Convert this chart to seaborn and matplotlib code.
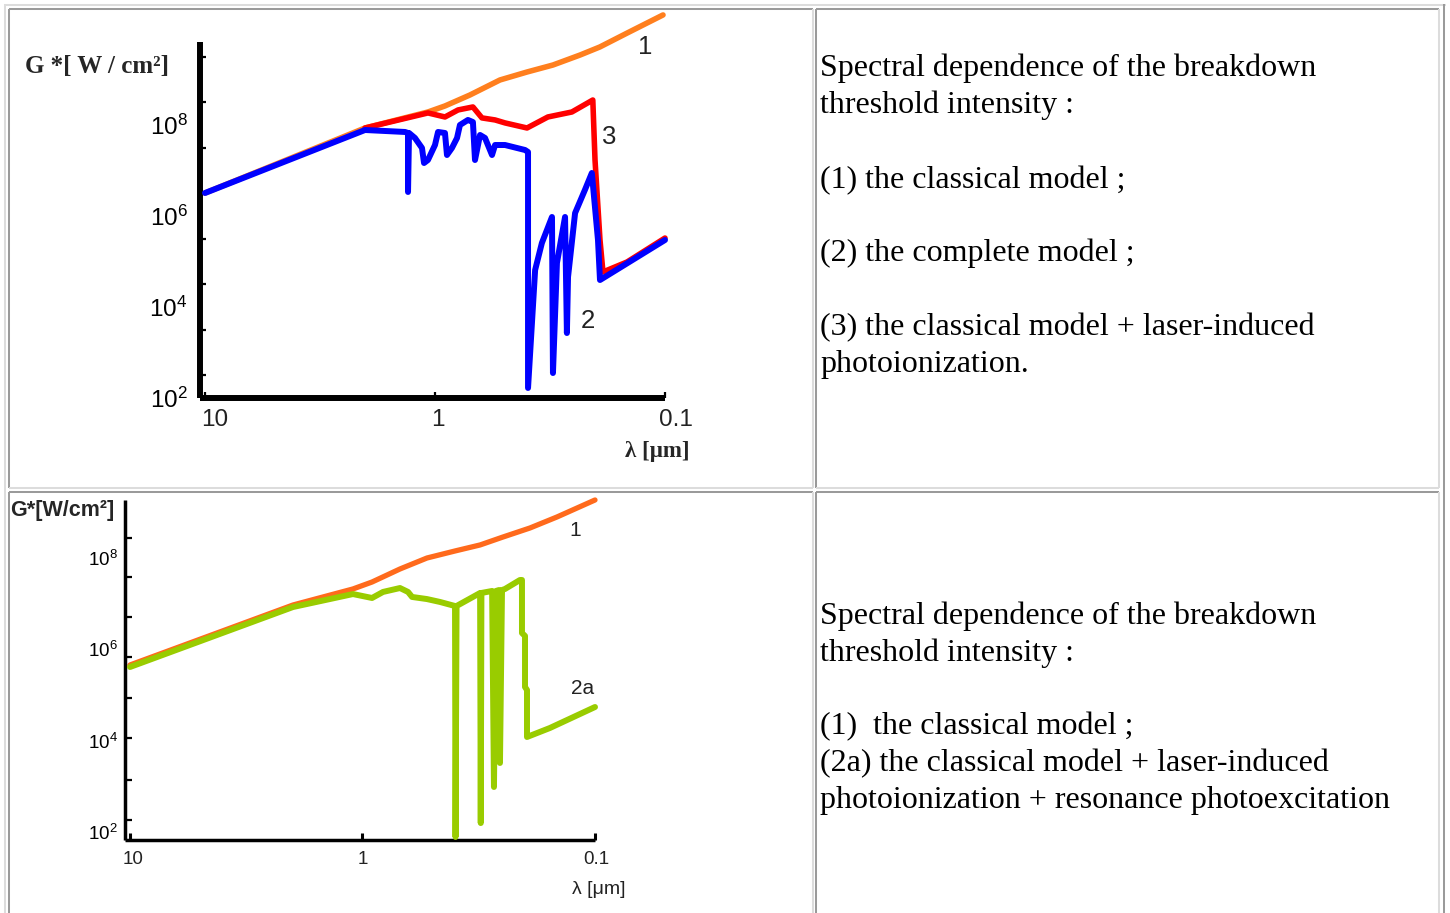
import matplotlib
matplotlib.use("Agg")
import matplotlib.pyplot as plt
import matplotlib.transforms as mtransforms
from matplotlib.lines import Line2D
from matplotlib.ticker import FixedLocator, NullFormatter
import seaborn as sns
import numpy as np
import pandas as pd

# ---------------- data ----------------
# Top chart: wavelength lambda [um] and breakdown threshold G* [W/cm^2]
top_classical_lam = [10.0, 2.015, 1.073, 0.905, 0.705, 0.522, 0.398, 0.307, 0.234, 0.192, 0.146, 0.102]
top_classical_G = [3.20e6, 8.59e7, 1.93e8, 2.62e8, 4.56e8, 9.75e8, 1.46e9, 2.08e9, 3.45e9, 5.18e9, 1.05e10, 2.62e10]

top_photo_lam = [2.015, 1.073, 0.905, 0.794, 0.684, 0.625, 0.548, 0.496, 0.398, 0.323, 0.254, 0.206,
                 0.2015, 0.1917, 0.1861, 0.1463, 0.100]
top_photo_G = [8.59e7, 1.84e8, 1.50e8, 2.14e8, 2.49e8, 1.43e8, 1.29e8, 1.11e8, 8.59e7, 1.50e8, 1.93e8, 3.54e8,
               1.70e7, 2.97e5, 5.88e4, 9.75e4, 3.28e5]

top_complete_lam = [10.0, 2.015, 1.350, 1.310, 1.310, 1.297, 1.222, 1.139, 1.116, 1.073, 1.000, 0.970,
                    0.905, 0.887, 0.844, 0.802, 0.779, 0.719, 0.684, 0.670, 0.637, 0.606, 0.565, 0.548,
                    0.496, 0.406, 0.394, 0.394, 0.367, 0.343, 0.310, 0.307, 0.295, 0.272, 0.267, 0.264,
                    0.246, 0.223, 0.208, 0.1956, 0.1917, 0.100]
top_complete_G = [3.20e6, 7.76e7, 7.02e7, 6.67e7, 3.37e6, 6.67e7, 5.18e7, 3.12e7, 1.46e7, 1.70e7, 3.63e7, 7.02e7,
                  6.67e7, 2.19e7, 3.12e7, 5.18e7, 1.00e8, 1.29e8, 1.16e8, 1.70e7, 6.03e7, 5.18e7, 2.19e7, 3.63e7,
                  3.63e7, 2.82e7, 2.55e7, 166, 6.50e4, 2.55e5, 9.51e5, 354, 9.27e4, 9.51e5, 2.68e3, 4.56e4,
                  1.16e6, 3.73e6, 8.81e6, 2.97e5, 3.92e4, 2.97e5]

# Bottom chart
bot_classical_lam = [10.0, 1.990, 1.099, 0.910, 0.690, 0.528, 0.400, 0.312, 0.2487, 0.1904, 0.1457, 0.100]
bot_classical_G = [4.51e5, 9.27e6, 2.08e7, 2.95e7, 5.69e7, 9.90e7, 1.41e8, 1.91e8, 2.85e8, 4.49e8, 7.82e8, 1.84e9]

bot_reso_lam = [10.0, 1.990, 1.099, 0.910, 0.816, 0.690, 0.637, 0.612, 0.528, 0.464, 0.400, 0.398, 0.394,
                0.312, 0.310, 0.308, 0.277, 0.272, 0.2666, 0.2588, 0.2563, 0.2512, 0.2438, 0.2102,
                0.2061, 0.2061, 0.2000, 0.2000, 0.1961, 0.1961, 0.1562, 0.100]
bot_reso_G = [4.08e5, 8.38e6, 1.61e7, 1.32e7, 1.79e7, 2.18e7, 1.79e7, 1.39e7, 1.25e7, 1.08e7, 8.81e6, 77.8, 8.81e6,
              1.70e7, 157, 1.70e7, 1.88e7, 966, 1.88e7, 1.97e7, 3.24e3, 1.97e7, 2.08e7, 3.27e7,
              3.27e7, 2.26e6, 1.95e6, 1.49e5, 1.28e5, 1.20e4, 1.89e4, 5.43e4]

y_tick_values = [1e2, 1e4, 1e6, 1e8]
y_tick_labels = [r"$\mathregular{10^{2}}$", r"$\mathregular{10^{4}}$", r"$\mathregular{10^{6}}$", r"$\mathregular{10^{8}}$"]
x_tick_values = [10, 1, 0.1]
x_tick_labels = ["10", "1", "0.1"]

text_top = ["Spectral dependence of the breakdown", "threshold intensity :",
            "(1) the classical model ;", "(2) the complete model ;",
            "(3) the classical model + laser-induced", "photoionization."]
text_bot = ["Spectral dependence of the breakdown", "threshold intensity :",
            "(1)  the classical model ;", "(2a) the classical model + laser-induced",
            "photoionization + resonance photoexcitation"]

# ---------------- style ----------------
sns.set_theme(style="white")
plt.rcParams["font.family"] = ["Liberation Sans", "DejaVu Sans"]
plt.rcParams["mathtext.fontset"] = "custom"
plt.rcParams["mathtext.rm"] = "Liberation Sans"
plt.rcParams["mathtext.it"] = "Liberation Sans:italic"
plt.rcParams["mathtext.bf"] = "Liberation Sans:bold"

W, H = 1450, 913
fig = plt.figure(figsize=(W / 100, H / 100), dpi=100)
fig.patch.set_facecolor("white")


def rect(l, t, r, b):
    return [l / W, 1 - b / H, (r - l) / W, (b - t) / H]


def series(lam, G):
    return pd.DataFrame({"lam": lam, "G": G})


def draw(ax, lam, G, color, lw, z):
    sns.lineplot(data=series(lam, G), x="lam", y="G", sort=False, estimator=None,
                 color=color, linewidth=lw, ax=ax, zorder=z, legend=False, clip_on=False)


def shift_labels(ax, offsets_px):
    for lab, dx in zip(ax.get_xticklabels(), offsets_px):
        lab.set_transform(lab.get_transform() +
                          mtransforms.ScaledTranslation(dx / 100, 0, fig.dpi_scale_trans))


# ---------------- top chart ----------------
ax1 = fig.add_axes(rect(200, 10, 665, 398))
draw(ax1, top_classical_lam, top_classical_G, "#ff7f1e", 4.0, 2)
draw(ax1, top_photo_lam, top_photo_G, "#ff0000", 4.0, 3)
draw(ax1, top_complete_lam, top_complete_G, "#0000ff", 4.3, 4)
ax1.set_xscale("log")
ax1.set_yscale("log")
ax1.set_xlim(10 ** 1.0217, 0.1)
ax1.set_ylim(1e2, 10 ** 10.527)
ax1.set_facecolor("none")
ax1.grid(False)
for s in ["top", "right"]:
    ax1.spines[s].set_visible(False)
for s in ["left", "bottom"]:
    ax1.spines[s].set_color("black")
    ax1.spines[s].set_linewidth(4.3)
    ax1.spines[s].set_capstyle("butt")
ax1.spines["left"].set_bounds(1e2, 10 ** 9.824)
ax1.set_xlabel("")
ax1.set_ylabel("")
ax1.yaxis.set_major_locator(FixedLocator(y_tick_values))
ax1.set_yticklabels(y_tick_labels)
ax1.yaxis.set_minor_locator(FixedLocator([10 ** (k + 0.5) for k in range(2, 10)]))
ax1.yaxis.set_minor_formatter(NullFormatter())
ax1.tick_params(axis="y", which="major", length=0, pad=9, labelsize=17.5, colors="black")
ax1.tick_params(axis="y", which="minor", direction="in", length=4.5, width=1.6, left=True, color="black")
ax1.xaxis.set_major_locator(FixedLocator(x_tick_values))
ax1.set_xticklabels(x_tick_labels)
ax1.xaxis.set_minor_locator(FixedLocator([]))
ax1.tick_params(axis="x", which="major", direction="in", length=4.5, width=1.6, pad=8,
                labelsize=17.5, bottom=True, color="black", labelcolor="#222222")
shift_labels(ax1, [10, 3, 11])

fig.text(25 / W, 1 - 66 / H, "G *[ W / cm²]", family=["Liberation Serif", "DejaVu Serif"],
         fontweight="bold", fontsize=18, va="center", ha="left")
fig.text(690 / W, 1 - 452 / H, "λ [μm]", family=["Liberation Serif", "DejaVu Serif"],
         fontweight="bold", fontsize=16.5, va="center", ha="right")
for txt, (x, y) in zip(["1", "3", "2"], [(645, 47), (609, 137), (588, 321)]):
    fig.text(x / W, 1 - y / H, txt, fontsize=18.5, va="center", ha="center", color="#222222")

# ---------------- bottom chart ----------------
ax2 = fig.add_axes(rect(125, 495, 595, 840))
draw(ax2, bot_classical_lam, bot_classical_G, "#ff6a1c", 3.8, 2)
draw(ax2, bot_reso_lam, bot_reso_G, "#99cc00", 4.3, 3)
ax2.set_xscale("log")
ax2.set_yscale("log")
ax2.set_xlim(10 ** 1.0215, 0.1)
ax2.set_ylim(10 ** 1.825, 10 ** 9.374)
ax2.set_facecolor("none")
ax2.grid(False)
for s in ["top", "right"]:
    ax2.spines[s].set_visible(False)
for s in ["left", "bottom"]:
    ax2.spines[s].set_color("black")
    ax2.spines[s].set_linewidth(2.5)
    ax2.spines[s].set_capstyle("butt")
ax2.spines["left"].set_bounds(10 ** 1.825, 10 ** 9.265)
ax2.set_xlabel("")
ax2.set_ylabel("")
ax2.yaxis.set_major_locator(FixedLocator(y_tick_values))
ax2.set_yticklabels(y_tick_labels)
ax2.yaxis.set_minor_locator(FixedLocator([10 ** v for v in [2.26, 3.14, 4.06, 4.93, 5.83, 6.70, 7.58, 8.43]]))
ax2.yaxis.set_minor_formatter(NullFormatter())
ax2.tick_params(axis="y", which="major", length=0, pad=5, labelsize=13.5, colors="black")
ax2.tick_params(axis="y", which="minor", direction="in", length=5, width=1.6, left=True, color="black")
ax2.xaxis.set_major_locator(FixedLocator(x_tick_values))
ax2.set_xticklabels(x_tick_labels)
ax2.xaxis.set_minor_locator(FixedLocator([]))
ax2.tick_params(axis="x", which="major", direction="in", length=5, width=2.2, pad=8,
                labelsize=13.5, bottom=True, color="black", labelcolor="#222222")
shift_labels(ax2, [3, 0, 1])

fig.text(10 / W, 1 - 510 / H, "G*[W/cm²]", fontweight="bold", fontsize=15.5, va="center", ha="left")
fig.text(625 / W, 1 - 889 / H, "λ [μm]", fontsize=14, va="center", ha="right", color="#222222")
fig.text(575 / W, 1 - 530 / H, "1", fontsize=15, va="center", ha="center", color="#222222")
fig.text(583 / W, 1 - 688 / H, "2a", fontsize=15, va="center", ha="center", color="#222222")

# ---------------- table borders ----------------
LIGHT, DARK = "#dcdcdc", "#9a9a9a"


def hline(y, x0, x1, c):
    fig.add_artist(Line2D([x0 / W, x1 / W], [1 - y / H, 1 - y / H], transform=fig.transFigure,
                          color=c, lw=1.45, solid_capstyle="butt"))


def vline(x, y0, y1, c):
    fig.add_artist(Line2D([x / W, x / W], [1 - y0 / H, 1 - y1 / H], transform=fig.transFigure,
                          color=c, lw=1.45, solid_capstyle="butt"))


hline(5, 4, 1446, LIGHT)
vline(5, 4, 920, LIGHT)
vline(1444, 4, 920, DARK)
for (x0, y0, x1, y1) in [(9, 9, 813, 488), (816, 9, 1439, 488), (9, 492, 813, 930), (816, 492, 1439, 930)]:
    hline(y0, x0, x1, DARK)
    vline(x0, y0, y1, DARK)
    hline(y1, x0, x1, LIGHT)
    vline(x1, y0, y1, LIGHT)

# ---------------- right-column text ----------------
serif = ["Liberation Serif", "DejaVu Serif"]
for y, s in zip([76, 113, 188, 261, 335, 372], text_top):
    fig.text(820 / W, 1 - y / H, s, family=serif, fontsize=23, va="baseline", ha="left", color="black")
for y, s in zip([624, 661, 734, 771, 808], text_bot):
    fig.text(820 / W, 1 - y / H, s, family=serif, fontsize=23, va="baseline", ha="left", color="black")

fig.savefig("out.png", dpi=100, facecolor="white")
